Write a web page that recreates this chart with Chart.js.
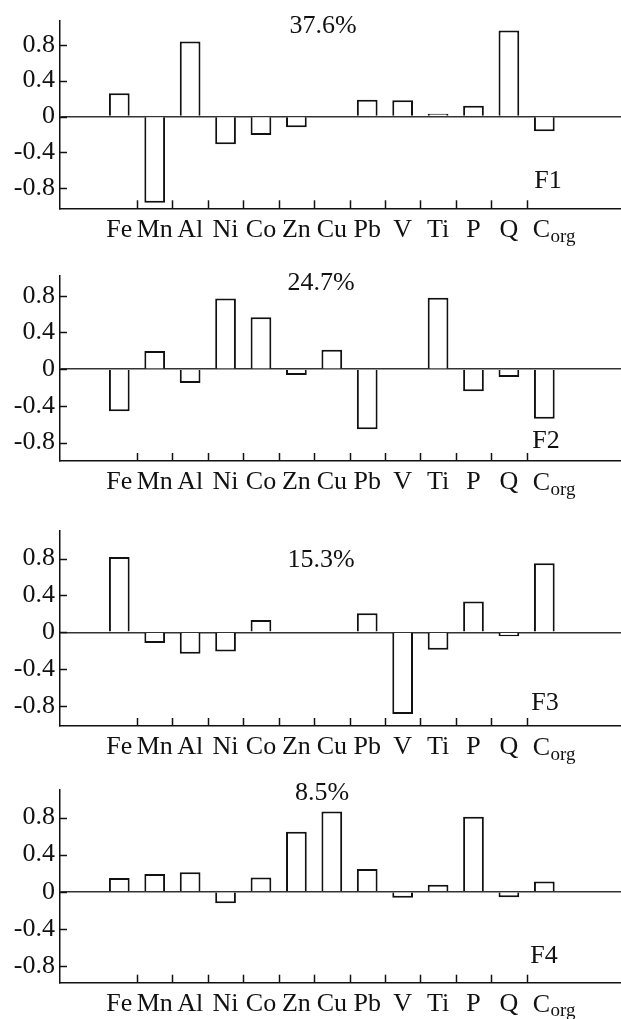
<!DOCTYPE html>
<html>
<head>
<meta charset="utf-8">
<script src="https://cdn.jsdelivr.net/npm/chart.js@4/dist/chart.umd.min.js"></script>
<style>
  html, body { margin: 0; padding: 0; background: #fff; }
  body { width: 621px; height: 1019px; position: relative; overflow: hidden; font-family: 'Liberation Serif', 'Times New Roman', serif; }
  canvas { position: absolute; left: 0; }
  .lbl { position: absolute; font-size: 26px; line-height: 26px; color: #111; white-space: nowrap; transform: translateX(-50%); }
</style>
</head>
<body>
<canvas id="c1" width="621" height="255" style="top:0px"></canvas>
<canvas id="c2" width="621" height="255" style="top:255px"></canvas>
<canvas id="c3" width="621" height="255" style="top:510px"></canvas>
<canvas id="c4" width="621" height="254" style="top:765px"></canvas>
<div class="lbl" style="left:323px;top:12px">37.6%</div>
<div class="lbl" style="left:548px;top:167px">F1</div>
<div class="lbl" style="left:321px;top:269px">24.7%</div>
<div class="lbl" style="left:546px;top:427px">F2</div>
<div class="lbl" style="left:321px;top:546px">15.3%</div>
<div class="lbl" style="left:545px;top:689px">F3</div>
<div class="lbl" style="left:322px;top:779px">8.5%</div>
<div class="lbl" style="left:544px;top:942px">F4</div>
<script>
// ---- data ----
const categories = ['Fe','Mn','Al','Ni','Co','Zn','Cu','Pb','V','Ti','P','Q','Corg'];
const yTicks = [-0.8, -0.4, 0, 0.4, 0.8];
const f1Values = [0.26, -0.96, 0.835, -0.31, -0.205, -0.12, 0, 0.186, 0.18, 0.03, 0.12, 0.96, -0.165];
const f2Values = [-0.46, 0.198, -0.15, 0.77, 0.566, -0.065, 0.21, -0.656, 0, 0.778, -0.24, -0.087, -0.54];
const f3Values = [0.818, -0.117, -0.233, -0.208, 0.133, 0, 0, 0.206, -0.887, -0.19, 0.335, -0.044, 0.75];
const f4Values = [0.149, 0.19, 0.21, -0.125, 0.152, 0.647, 0.866, 0.244, -0.066, 0.074, 0.81, -0.059, 0.11];

const FONT = "'Liberation Serif', 'Times New Roman', serif";
const INK = '#111';

const axisMarks = {
  id: 'axisMarks',
  afterDatasetsDraw(chart) {
    const ctx = chart.ctx, xs = chart.scales.x, ys = chart.scales.y, a = chart.chartArea;
    ctx.save();
    ctx.strokeStyle = INK;
    ctx.lineWidth = 1.5;
    // x tick marks between categories, pointing up
    for (let i = 0; i < categories.length - 1; i++) {
      const x = Math.round(xs.getPixelForValue(i + 0.5)) + 0.5;
      ctx.beginPath(); ctx.moveTo(x, a.bottom); ctx.lineTo(x, a.bottom - 8); ctx.stroke();
    }
    // y tick marks pointing inward
    yTicks.forEach(v => {
      const y = Math.round(ys.getPixelForValue(v)) + 0.5;
      ctx.beginPath(); ctx.moveTo(a.left, y); ctx.lineTo(a.left + 7, y); ctx.stroke();
    });
    // C_org label with subscript
    const xc = xs.getPixelForValue(categories.length - 1);
    const base = a.bottom + 29;
    ctx.fillStyle = INK;
    ctx.textBaseline = 'alphabetic';
    ctx.textAlign = 'left';
    ctx.font = '26px ' + FONT;
    const cx = xc - 11.6;
    ctx.fillText('C', cx, base);
    const cw = ctx.measureText('C').width;
    ctx.font = '19px ' + FONT;
    ctx.fillText('org', cx + cw + 0.5, base + 4.5);
    ctx.restore();
  }
};

function makeChart(id, values, padTop, xHeight, yMin, yMax) {
  new Chart(document.getElementById(id), {
    type: 'bar',
    data: {
      datasets: [{
        data: values.map((v, i) => ({ x: i, y: v })),
        backgroundColor: '#fff',
        borderColor: INK,
        borderWidth: 2,
        borderSkipped: 'start',
        barPercentage: 0.585,
        categoryPercentage: 1
      }]
    },
    options: {
      responsive: false,
      animation: false,
      events: [],
      layout: { padding: { top: padTop, left: 0, right: 0, bottom: 0 } },
      plugins: { legend: { display: false }, tooltip: { enabled: false } },
      scales: {
        x: {
          type: 'linear',
          offset: false,
          min: -1.674,
          max: 14.165,
          afterBuildTicks(s) { s.ticks = categories.map((c, i) => ({ value: i })); },
          afterFit(s) { s.height = xHeight; },
          grid: { display: false, drawTicks: false, offset: false },
          border: { display: true, color: INK, width: 1.5 },
          ticks: {
            autoSkip: false, maxRotation: 0, minRotation: 0, padding: 6,
            color: INK, font: { family: FONT, size: 26 },
            callback: (v, i) => (categories[i] === 'Corg' ? '' : categories[i])
          }
        },
        y: {
          min: yMin,
          max: yMax,
          afterBuildTicks(s) { s.ticks = yTicks.map(v => ({ value: v })); },
          afterFit(s) { s.width = 60; },
          grid: {
            drawTicks: false,
            lineWidth: 1.5,
            color: c => (c.tick && c.tick.value === 0 ? '#333' : 'rgba(0,0,0,0)')
          },
          border: { display: true, color: INK, width: 1.5 },
          ticks: {
            padding: 5, color: INK, font: { family: FONT, size: 26 },
            callback: v => (v === 0 ? '0' : v.toFixed(1))
          }
        }
      }
    },
    plugins: [axisMarks]
  });
}

makeChart('c1', f1Values, 14, 46.7, -1.023, 1.069);
makeChart('c2', f2Values, 18.3, 49, -1.001, 1.019);
makeChart('c3', f3Values, 20, 39, -1.016, 1.103);
makeChart('c4', f4Values, 24.3, 36.3, -0.982, 1.105);
</script>
</body>
</html>
